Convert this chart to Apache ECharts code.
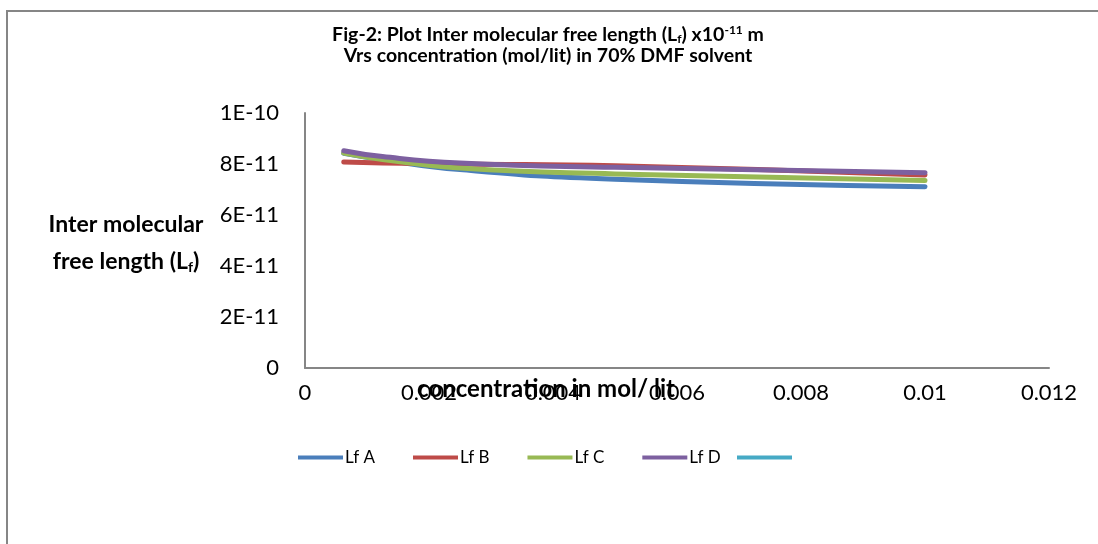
<!DOCTYPE html>
<html>
<head>
<meta charset="utf-8">
<script src="https://cdn.jsdelivr.net/npm/echarts@6/dist/echarts.min.js"></script>
<style>
html,body{margin:0;padding:0;background:#fff;}
#c{width:1098px;height:544px;}
</style>
</head>
<body>
<div id="c"></div>
<script>
const concentration = [0.000625, 0.00125, 0.0025, 0.005, 0.01];
const lfA = [8.42e-11, 8.17e-11, 7.78e-11, 7.40e-11, 7.11e-11];
const lfB = [8.08e-11, 8.04e-11, 8.00e-11, 7.93e-11, 7.57e-11];
const lfC = [8.43e-11, 8.18e-11, 7.84e-11, 7.61e-11, 7.35e-11];
const lfD = [8.52e-11, 8.29e-11, 8.04e-11, 7.87e-11, 7.66e-11];
const seriesNames = ['Lf A', 'Lf B', 'Lf C', 'Lf D', ' '];
const yTickLabels = ['0', '2E-11', '4E-11', '6E-11', '8E-11', '1E-10'];
const xTickLabels = ['0', '0.002', '0.004', '0.006', '0.008', '0.01', '0.012'];
const colors = ['#4A7EBB', '#BE4B48', '#98B954', '#7D60A0', '#46AAC5'];

function pairs(ys){ return concentration.map((x,i)=>[x, ys[i]]); }
const allData = [lfA, lfB, lfC, lfD, []];

const chart = echarts.init(document.getElementById('c'), null, {renderer:'canvas'});
const FONT = 'Lato';
const legendBase = {
  icon: 'rect', itemWidth: 45, itemHeight: 4, itemGap: 38, top: 449, padding: 0,
  textStyle: {fontFamily: FONT, fontSize: 17, color: '#000', padding: [0,0,0,-3]}
};
const option = {
  animation: false,
  backgroundColor: '#fff',
  textStyle: {fontFamily: FONT},
  grid: {left: 305, top: 113, right: 49, bottom: 176, containLabel: false},
  legend: [
    Object.assign({}, legendBase, {data: seriesNames.slice(0,4), left: 298}),
    Object.assign({}, legendBase, {data: seriesNames.slice(4), left: 737, itemWidth: 55})
  ],
  xAxis: {
    type: 'value', min: 0, max: 0.012, interval: 0.002,
    axisLine: {show: true, lineStyle: {color: '#868686', width: 2}},
    axisTick: {show: false},
    splitLine: {show: false},
    axisLabel: {
      fontFamily: FONT, fontSize: 22, color: '#000', margin: 14,
      formatter: function(v){ return xTickLabels[Math.round(v/0.002)]; }
    }
  },
  yAxis: {
    type: 'value', min: 0, max: 1e-10, interval: 2e-11,
    axisLine: {show: true, lineStyle: {color: '#868686', width: 2}},
    axisTick: {show: false},
    splitLine: {show: false},
    axisLabel: {
      fontFamily: FONT, fontSize: 22, color: '#000', margin: 26,
      formatter: function(v){ return yTickLabels[Math.round(v/2e-11)]; }
    }
  },
  graphic: [
    {type: 'rect', shape: {x: 7, y: 11, width: 1200, height: 700}, style: {fill: 'none', stroke: '#868686', lineWidth: 2}, silent: true},
    {type: 'text', x: 548, y: 35, style: {
      text: '{b|Fig-2: Plot Inter molecular free length (L}{s|f}{b|) x10}{p|-11}{b| m}',
      align: 'center', verticalAlign: 'middle',
      rich: {
        b: {fontFamily: FONT, fontWeight: 'bold', fontSize: 19.5, lineHeight: 22, color: '#000'},
        s: {fontFamily: FONT, fontWeight: 'bold', fontSize: 12, lineHeight: 22, verticalAlign: 'middle', padding: [9,0,0,0], color: '#000'},
        p: {fontFamily: FONT, fontWeight: 'bold', fontSize: 12, lineHeight: 22, verticalAlign: 'middle', padding: [0,0,9,0], color: '#000'}
      }
    }},
    {type: 'text', x: 548, y: 56, style: {
      text: 'Vrs concentration (mol/lit) in 70% DMF solvent',
      align: 'center', verticalAlign: 'middle',
      fontFamily: FONT, fontWeight: 'bold', fontSize: 19.5, fill: '#000'
    }},
    {type: 'text', x: 126, y: 225, style: {
      text: 'Inter molecular',
      align: 'center', verticalAlign: 'middle',
      fontFamily: FONT, fontWeight: 'bold', fontSize: 23, fill: '#000'
    }},
    {type: 'text', x: 126, y: 262, style: {
      text: '{b|free length (L}{s|f}{b|)}',
      align: 'center', verticalAlign: 'middle',
      rich: {
        b: {fontFamily: FONT, fontWeight: 'bold', fontSize: 23, lineHeight: 26, color: '#000'},
        s: {fontFamily: FONT, fontWeight: 'bold', fontSize: 14, lineHeight: 26, verticalAlign: 'middle', padding: [10,0,0,0], color: '#000'}
      }
    }},
    {type: 'text', x: 546, y: 389, style: {
      text: 'concentration in mol/ lit', align: 'center', verticalAlign: 'middle',
      fontFamily: FONT, fontWeight: 'bold', fontSize: 24, fill: '#000'
    }}
  ],
  series: seriesNames.map((n,i)=>({
    name: n, type: 'line', data: pairs(allData[i]),
    smooth: true, showSymbol: false, symbol: 'none',
    lineStyle: {color: colors[i], width: 5, cap: 'round'},
    itemStyle: {color: colors[i]}
  }))
};
chart.setOption(option);
</script>
</body>
</html>
